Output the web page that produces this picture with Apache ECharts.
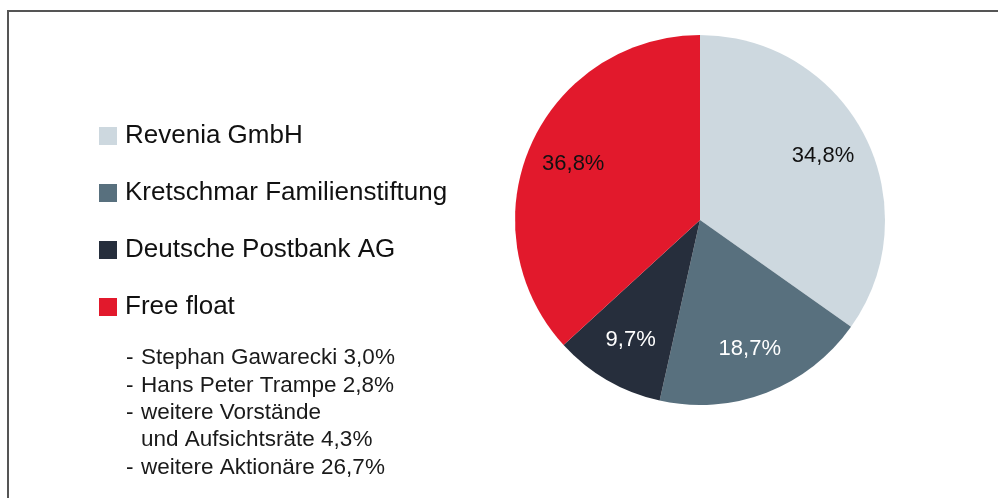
<!DOCTYPE html>
<html>
<head>
<meta charset="utf-8">
<script src="https://cdn.jsdelivr.net/npm/echarts@6/dist/echarts.min.js"></script>
<style>html,body{margin:0;padding:0;background:#fff}#c{width:998px;height:498px}</style>
</head>
<body>
<div id="c"></div>
<script>
const categories = ['Revenia GmbH', 'Kretschmar Familienstiftung', 'Deutsche Postbank AG', 'Free float'];
const shares = [34.8, 18.7, 9.7, 36.8];
const shareLabels = ['34,8%', '18,7%', '9,7%', '36,8%'];
const colors = ['#CDD8DF', '#58707E', '#262E3C', '#E2192C'];
const labelColors = ['#111111', '#ffffff', '#ffffff', '#111111'];
const freeFloatDetails = [
  ['- ', 'Stephan Gawarecki 3,0%'],
  ['- ', 'Hans Peter Trampe 2,8%'],
  ['- ', 'weitere Vorstände'],
  ['', 'und Aufsichtsräte 4,3%'],
  ['- ', 'weitere Aktionäre 26,7%']
];

const FONT = '"Liberation Sans", Arial, sans-serif';
const chart = echarts.init(document.getElementById('c'), null, {renderer: 'canvas'});

const pieData = categories.map((n, i) => ({
  name: n, value: shares[i], itemStyle: {color: colors[i]}
}));
const labelData = categories.map((n, i) => ({
  name: n, value: shares[i],
  label: {color: labelColors[i], formatter: shareLabels[i]}
}));

const graphics = [
  {type: 'polyline', silent: true, shape: {points: [[8, 498], [8, 11], [998, 11]]},
   style: {stroke: '#555555', lineWidth: 2, fill: null}}
];
const y0 = 358, dy = 27.4, fs = 22.5;
freeFloatDetails.forEach((d, i) => {
  const cy = y0 + dy * i;
  if (d[0]) graphics.push({type: 'text', x: 126, y: cy,
    style: {text: d[0], font: fs + 'px ' + FONT, fill: '#1a1a1a', verticalAlign: 'middle'}});
  graphics.push({type: 'text', x: 141, y: cy,
    style: {text: d[1], font: fs + 'px ' + FONT, fill: '#1a1a1a', verticalAlign: 'middle'}});
});

chart.setOption({
  animation: false,
  backgroundColor: '#ffffff',
  legend: {
    orient: 'vertical', left: 99, top: 123, padding: 0,
    selectedMode: false,
    data: categories,
    icon: 'rect', itemWidth: 18, itemHeight: 18, itemGap: 31,
    textStyle: {fontSize: 26, fontFamily: FONT, color: '#111111', lineHeight: 26, padding: [0, 0, 0, 3]}
  },
  graphic: graphics,
  series: [
    {
      type: 'pie', center: [700, 220], radius: [0, 185],
      startAngle: 90, clockwise: true, silent: true,
      label: {show: false}, labelLine: {show: false},
      itemStyle: {borderWidth: 0},
      data: pieData
    },
    {
      type: 'pie', center: [700, 220], radius: [86, 185],
      startAngle: 90, clockwise: true, silent: true,
      legendHoverLink: false,
      itemStyle: {color: 'rgba(0,0,0,0)', borderWidth: 0},
      label: {show: true, position: 'inside', fontSize: 22, fontFamily: FONT},
      labelLine: {show: false},
      data: labelData
    }
  ]
});
</script>
</body>
</html>
